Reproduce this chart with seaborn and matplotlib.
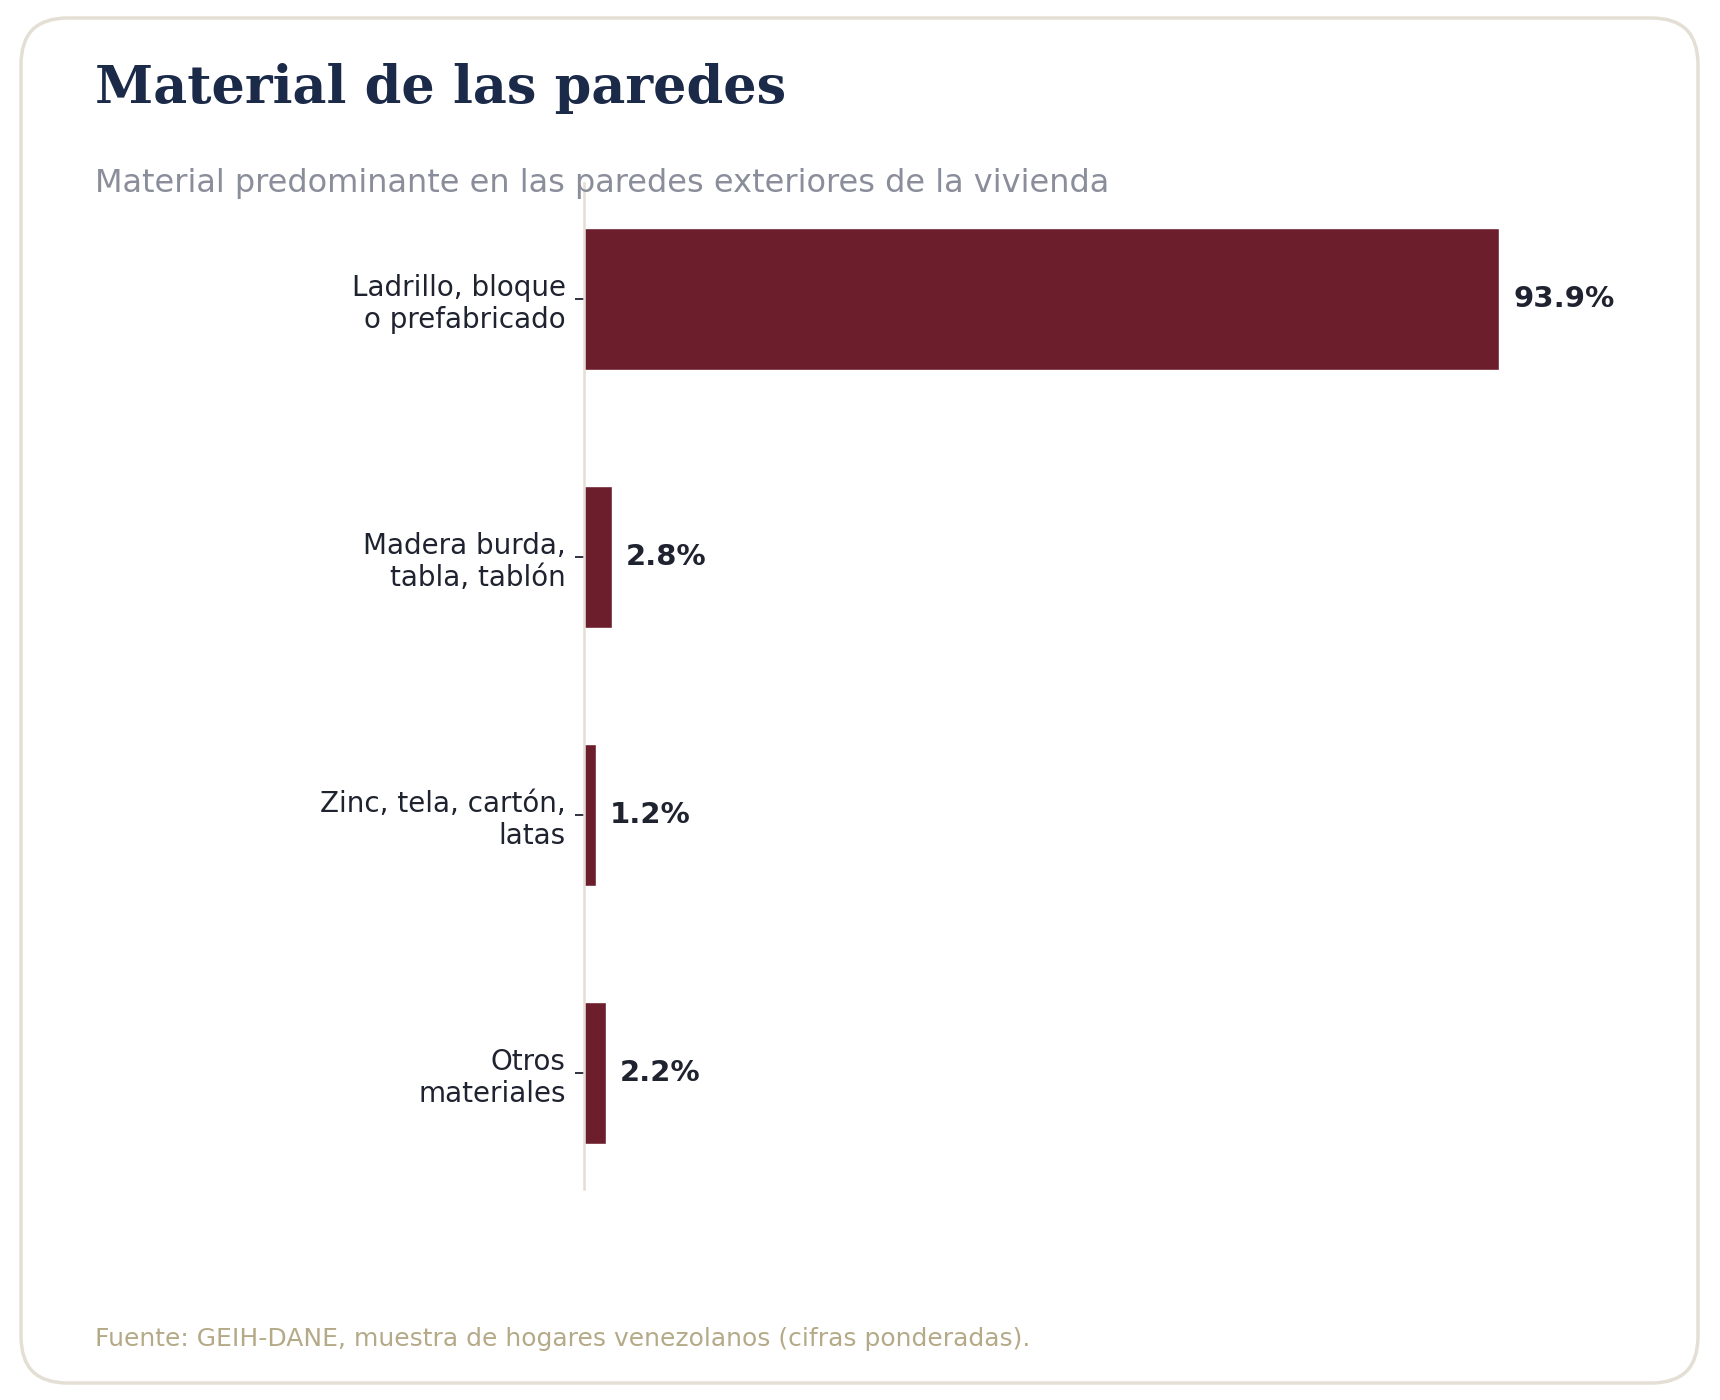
import matplotlib
matplotlib.use("Agg")
import matplotlib.pyplot as plt
from matplotlib.patches import FancyBboxPatch
import seaborn as sns
import pandas as pd

# data
categorias = [
    "Ladrillo, bloque\no prefabricado",
    "Madera burda,\ntabla, tablón",
    "Zinc, tela, cartón,\nlatas",
    "Otros\nmateriales",
]
porcentajes = [93.9, 2.8, 1.2, 2.2]

titulo = "Material de las paredes"
subtitulo = "Material predominante en las paredes exteriores de la vivienda"
fuente = "Fuente: GEIH-DANE, muestra de hogares venezolanos (cifras ponderadas)."

# colours
c_bar = "#6c1e2d"
c_title = "#1b2a48"
c_sub = "#8a8e9b"
c_text = "#1f2330"
c_src = "#b5aa88"
c_line = "#e4dfd4"

sns.set_theme(style="white")
plt.rcParams["font.family"] = ["DejaVu Sans"]

df = pd.DataFrame({"categoria": categorias, "pct": porcentajes})

fig = plt.figure(figsize=(17.2, 14), dpi=100)
fig.patch.set_facecolor("white")

# card border (drawn behind the axes)
card = FancyBboxPatch((21 / 1720, 17 / 1400), (1698 - 21) / 1720, (1382 - 17) / 1400,
                      boxstyle="round,pad=0,rounding_size=0.027",
                      transform=fig.transFigure, facecolor="none",
                      edgecolor=c_line, linewidth=2.5, mutation_aspect=1720 / 1400,
                      zorder=-1)
fig.patches.append(card)

ax = fig.add_axes([0.3398, 0.1507, 0.5960, 0.7189])
ax.set_facecolor("none")
sns.barplot(data=df, x="pct", y="categoria", orient="h", color=c_bar,
            width=0.55, saturation=1, ax=ax)

ax.set_xlim(0, 105.2)
ax.set_ylim(3.45, -0.45)
ax.set_xlabel("")
ax.set_ylabel("")
ax.set_xticks([])

for s in ["top", "right", "bottom"]:
    ax.spines[s].set_visible(False)
ax.spines["left"].set_color(c_line)
ax.spines["left"].set_linewidth(1.8)

ax.tick_params(axis="y", which="major", left=True, length=6.5, width=1.3,
               color=c_text, pad=7, labelsize=20, labelcolor=c_text)

ax.bar_label(ax.containers[0], labels=[f"{v:.1f}%" for v in porcentajes],
             padding=10, fontsize=21, fontweight="bold", color=c_text)

fig.text(0.0552, 0.9264, titulo, fontsize=37.8, fontweight="bold",
         family="DejaVu Serif", color=c_title, va="baseline", ha="left")
fig.text(0.0552, 0.8629, subtitulo, fontsize=23, color=c_sub,
         va="baseline", ha="left")
fig.text(0.0552, 0.0386, fuente, fontsize=18, color=c_src,
         va="baseline", ha="left")

fig.savefig("out.png", dpi=100, facecolor="white")
